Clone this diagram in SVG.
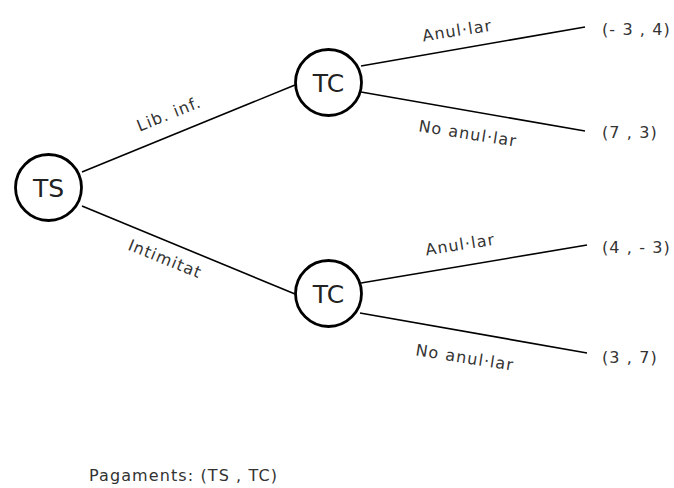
<svg xmlns="http://www.w3.org/2000/svg" width="674" height="488" viewBox="0 0 674 488">
<style>
.edge{stroke:#000;stroke-width:1.6;fill:none}
.node circle{fill:#fff;stroke:#000;stroke-width:2.8}
.node text{font-family:"DejaVu Sans",Verdana,sans-serif;font-size:25px;fill:#222;text-anchor:middle}
.lbl{font-family:"DejaVu Sans",Verdana,sans-serif;font-size:16px;fill:#333;letter-spacing:1.1px}
.mid{text-anchor:middle}
</style>
<rect width="674" height="488" fill="#fff"/>
<g id="connectors">
<line class="edge" x1="82" y1="172" x2="295" y2="85"/>
<line class="edge" x1="82" y1="206" x2="295" y2="294"/>
<line class="edge" x1="361" y1="66" x2="585" y2="27"/>
<line class="edge" x1="361" y1="92" x2="585" y2="131"/>
<line class="edge" x1="361" y1="283" x2="587" y2="245"/>
<line class="edge" x1="360" y1="313" x2="587" y2="353"/>
<text class="lbl mid" transform="translate(171,119) rotate(-22)">Lib. inf.</text>
<text class="lbl mid" transform="translate(163,264) rotate(22)">Intimitat</text>
<text class="lbl mid" transform="translate(458,36) rotate(-9)">Anul·lar</text>
<text class="lbl mid" transform="translate(467,139) rotate(9)">No anul·lar</text>
<text class="lbl mid" transform="translate(461,250) rotate(-9)">Anul·lar</text>
<text class="lbl mid" transform="translate(464,363) rotate(9)">No anul·lar</text>
</g>
<g id="TS" class="node"><circle cx="48.5" cy="187.5" r="33"/><text x="48.5" y="196.5">TS</text></g>
<g id="TC1" class="node"><circle cx="328.5" cy="82.5" r="33"/><text x="328.5" y="91.5">TC</text></g>
<g id="TC2" class="node"><circle cx="328.5" cy="293.5" r="33"/><text x="328.5" y="302.5">TC</text></g>
<g id="payoffs">
<text class="lbl" x="602" y="35">(- 3 , 4)</text>
<text class="lbl" x="602" y="138">(7 , 3)</text>
<text class="lbl" x="602" y="253">(4 , - 3)</text>
<text class="lbl" x="602" y="363">(3 , 7)</text>
</g>
<text id="legend" class="lbl" x="89" y="481">Pagaments: (TS , TC)</text>
</svg>
